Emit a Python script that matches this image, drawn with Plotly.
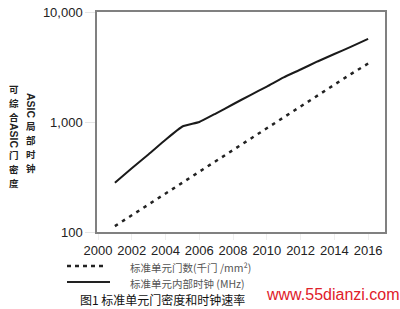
import plotly.graph_objects as go

years = list(range(2001, 2017))
gate_density = [113, 142, 178, 224, 283, 355, 445, 560, 700, 880, 1100, 1390, 1740, 2180, 2740, 3400]
clock_mhz = [280, 380, 510, 690, 910, 1000, 1200, 1450, 1750, 2100, 2550, 3000, 3550, 4150, 4850, 5700]

x_ticks = list(range(2000, 2017, 2))
y_tickvals = [100, 1000, 10000]
y_ticktext = ["100", "1,000", "10,000"]

series_names = ["标准单元门数(千门 /mm²)", "标准单元内部时钟 (MHz)"]
left_title = ["可", "综", "合", "ASIC", "门", "密", "度"]
right_title = ["ASIC", "局", "部", "时", "钟"]
caption = "图1 标准单元门密度和时钟速率"
watermark = "www.55dianzi.com"

W, H = 400, 309
L, R, T, B = 97, 385, 12, 232


def px(x):
    return (x - L) / (R - L)


def py(y):
    return (B - y) / (B - T)


CJK = "Noto Sans CJK SC"
LAT = "Liberation Sans"

fig = go.Figure()
fig.add_trace(go.Scatter(x=years, y=gate_density, mode="lines",
                         line=dict(color="#222", width=2.5, dash="3.5px,5px"),
                         showlegend=False))
fig.add_trace(go.Scatter(x=years, y=clock_mhz, mode="lines", line_shape="spline",
                         line=dict(color="#1a1a1a", width=2, smoothing=0.4), showlegend=False))

ann = []


def vertical_title(chars, xc, centers):
    for ch, yy in zip(chars, centers):
        if ch == "ASIC":
            ann.append(dict(text="<b>ASIC</b>", x=px(xc), y=py(yy), textangle=90,
                            font=dict(family=LAT, size=10.5, color="#222"), borderpad=0))
        else:
            ann.append(dict(text="<b>" + ch + "</b>", x=px(xc), y=py(yy),
                            font=dict(family=CJK, size=9.5, color="#222"), borderpad=0))


vertical_title(left_title, 14, [89, 103, 117, 136, 155, 169, 183])
vertical_title(right_title, 31, [106, 126, 140, 154, 168])

ann.append(dict(text=series_names[0], x=px(129), y=py(267), xanchor="left",
                font=dict(family=CJK, size=10.5, color="#555"), borderpad=0))
ann.append(dict(text=series_names[1], x=px(129), y=py(283), xanchor="left",
                font=dict(family=CJK, size=10.5, color="#555"), borderpad=0))
ann.append(dict(text=caption, x=px(79), y=py(299), xanchor="left",
                font=dict(family=CJK, size=12, color="#111"), borderpad=0))
ann.append(dict(text=watermark, x=px(265), y=py(294), xanchor="left",
                font=dict(family=LAT, size=16, color="#e0202a"), borderpad=0))
for a in ann:
    a.update(xref="paper", yref="paper", showarrow=False)
    a.setdefault("xanchor", "center")
    a.setdefault("yanchor", "middle")

shapes = [
    dict(type="line", xref="paper", yref="paper", x0=px(67), x1=px(106), y0=py(266), y1=py(266),
         line=dict(color="#222", width=2.5, dash="4px,4px")),
    dict(type="line", xref="paper", yref="paper", x0=px(67), x1=px(110), y0=py(282), y1=py(282),
         line=dict(color="#222", width=2)),
]

fig.update_layout(
    width=W, height=H,
    margin=dict(l=L, r=W - R, t=T, b=H - B, autoexpand=False),
    paper_bgcolor="white", plot_bgcolor="white",
    annotations=ann, shapes=shapes,
    xaxis=dict(range=[1999.94, 2017.0], tickvals=x_ticks, showgrid=False, zeroline=False,
               automargin=False,
               showline=True, mirror=True, linecolor="#808080", linewidth=1.5,
               ticks="outside", ticklen=6, tickcolor="#eee",
               tickfont=dict(family=LAT, size=13, color="#222")),
    yaxis=dict(type="log", range=[2, 4], tickvals=y_tickvals, ticktext=y_ticktext,
               automargin=False,
               showgrid=False, zeroline=False, showline=True, mirror=True,
               linecolor="#808080", linewidth=1.5, ticks="outside", ticklen=10, tickcolor="#e5e5e5",
               tickfont=dict(family=LAT, size=13, color="#222")),
)

fig.write_html("out.html")
